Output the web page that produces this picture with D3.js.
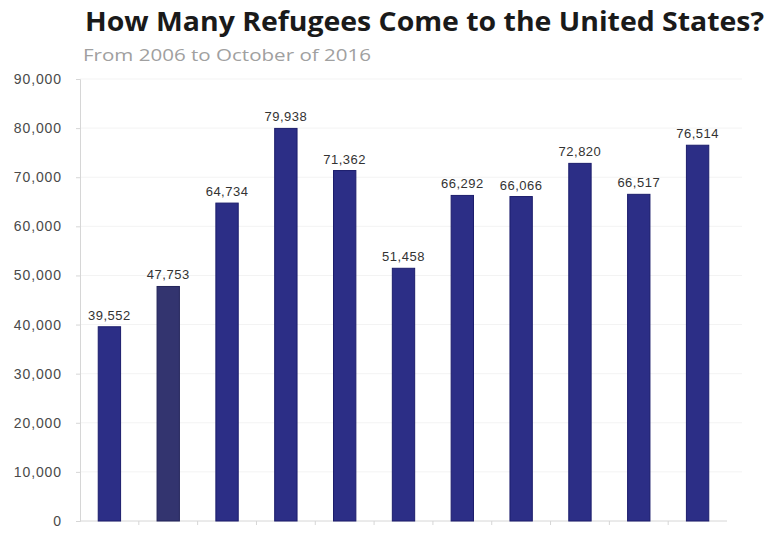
<!DOCTYPE html>
<html>
<head>
<meta charset="utf-8">
<script src="https://cdn.jsdelivr.net/npm/d3@7"></script>
<style>
  body { margin: 0; background: #fff; }
  svg { display: block; }
</style>
</head>
<body>
<svg id="chart" width="770" height="534"></svg>
<script>
// values, one per fiscal year
const years = ["2006", "2007", "2008", "2009", "2010", "2011", "2012", "2013", "2014", "2015", "2016"];
const refugees = [39552, 47753, 64734, 79938, 71362, 51458, 66292, 66066, 72820, 66517, 76514];
const yTicks = [0, 10000, 20000, 30000, 40000, 50000, 60000, 70000, 80000, 90000];

const svg = d3.select("#chart");
const plotLeft = 80, plotRight = 727, plotTop = 79, plotBottom = 521;

const x = d3.scaleBand().domain(years).range([plotLeft, plotRight]).paddingInner(0.62).paddingOuter(0.31);
const y = d3.scaleLinear().domain([0, 90000]).range([plotBottom, plotTop]);
const fmt = d3.format(",");

// title + subtitle
svg.append("text")
    .attr("x", 85).attr("y", 31)
    .attr("font-family", "'Open Sans', Lato, sans-serif")
    .attr("font-weight", "bold")
    .attr("font-size", 26)
    .attr("textLength", 679)
    .attr("lengthAdjust", "spacingAndGlyphs")
    .attr("fill", "#1a1a1a")
    .text("How Many Refugees Come to the United States?");

svg.append("text")
    .attr("x", 83).attr("y", 61)
    .attr("font-family", "'Open Sans', Lato, sans-serif")
    .attr("font-size", 16.5)
    .attr("textLength", 288)
    .attr("lengthAdjust", "spacingAndGlyphs")
    .attr("fill", "#a0a0a0")
    .text("From 2006 to October of 2016");

// faint gridlines
svg.append("g")
    .selectAll("line")
    .data(yTicks.slice(1))
    .join("line")
        .attr("x1", plotLeft).attr("x2", 742)
        .attr("y1", d => y(d)).attr("y2", d => y(d))
        .attr("stroke", "#f3f3f3");

// y axis
const yAxis = svg.append("g")
    .attr("transform", `translate(${plotLeft},0)`)
    .call(d3.axisLeft(y).tickValues(yTicks).tickFormat(fmt).tickSize(4).tickPadding(14));
yAxis.select(".domain").attr("stroke", "#d6d6d6");
yAxis.selectAll(".tick line").attr("stroke", "#d6d6d6");
yAxis.selectAll("text")
    .attr("font-family", "'Liberation Sans', Arial, sans-serif")
    .attr("font-size", 14)
    .attr("letter-spacing", 0.9)
    .attr("fill", "#4a4a4a");

// x axis line with small ticks between bands
svg.append("line")
    .attr("x1", plotLeft).attr("x2", plotRight)
    .attr("y1", plotBottom).attr("y2", plotBottom)
    .attr("stroke", "#d6d6d6");
svg.append("g")
    .selectAll("line")
    .data(years.slice(1))
    .join("line")
        .attr("x1", d => x(d) - x.step() * x.paddingInner() / 2)
        .attr("x2", d => x(d) - x.step() * x.paddingInner() / 2)
        .attr("y1", plotBottom).attr("y2", plotBottom + 4)
        .attr("stroke", "#d6d6d6");

// bars
svg.append("g")
    .selectAll("rect")
    .data(refugees)
    .join("rect")
        .attr("x", (d, i) => x(years[i]))
        .attr("y", d => y(d))
        .attr("width", x.bandwidth())
        .attr("height", d => plotBottom - y(d))
        .attr("fill", (d, i) => i === 1 ? "#33346f" : "#2c2e86")
        .attr("stroke", (d, i) => i === 1 ? "#23245a" : "#1c1d6c")
        .attr("stroke-width", 1);

// value labels
svg.append("g")
    .selectAll("text")
    .data(refugees)
    .join("text")
        .attr("x", (d, i) => x(years[i]) + x.bandwidth() / 2)
        .attr("y", d => y(d) - 7)
        .attr("text-anchor", "middle")
        .attr("font-family", "'Liberation Sans', Arial, sans-serif")
        .attr("font-size", 13)
        .attr("letter-spacing", 0.5)
        .attr("fill", "#333")
        .text(d => fmt(d));
</script>
</body>
</html>
